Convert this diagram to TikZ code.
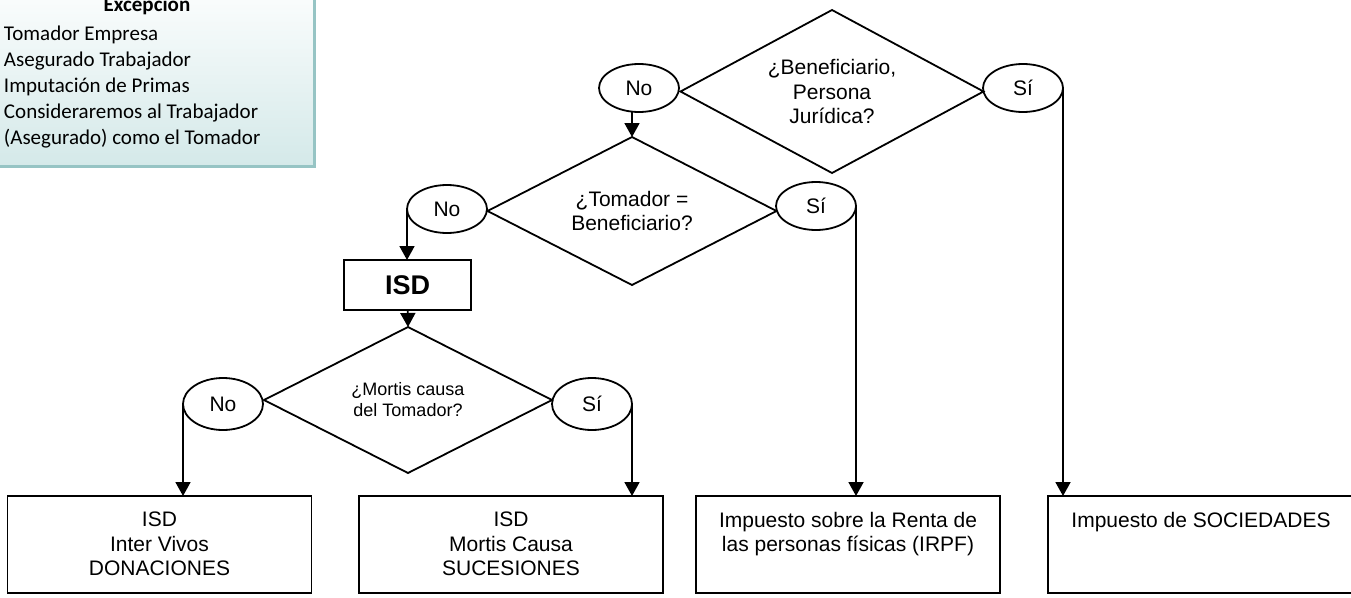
\documentclass[tikz,border=0pt]{standalone}
\usepackage{fontspec}
\setmainfont{Liberation Sans}
\newfontfamily\calibri{Carlito}
\usepackage{tikz}
\usetikzlibrary{arrows.meta,positioning,shapes}
\definecolor{tealline}{RGB}{150,196,196}
\definecolor{tealfill}{RGB}{212,233,233}
\newcommand{\restext}[1]{\parbox[c][97pt][t]{296pt}{\centering\vspace*{16pt}#1}}

\begin{document}
\begin{tikzpicture}[x=1pt,y=-1pt,% one unit = one pixel, y runs downwards
		every node/.style={
			align=center,		% use this so that the "\\" for line break works
			inner sep=0pt,outer sep=0pt,
			font=\fontsize{21}{24.5}\selectfont
		},
		every edge/.style={draw,line width=1.8pt,-{Triangle[width=15pt,length=14pt]}},
		question/.style={diamond,draw,line width=1.8pt,aspect=1.9},
		answer/.style={ellipse,draw,line width=1.8pt,minimum width=80,minimum height=48},
		result/.style={rectangle,draw,line width=1.8pt,minimum width=304,minimum height=97},
		excbox/.style={rectangle,draw=tealline,line width=3pt,top color=white,bottom color=tealfill},
		exctext/.style={font=\calibri\fontsize{21}{26}\selectfont}
	]
	\useasboundingbox (0,0) rectangle (1351,597);
	% note in the corner
	\node[excbox,minimum width=335,minimum height=192](E0) at (147,70) {};
	\node[exctext,font=\calibri\bfseries\fontsize{21}{26}\selectfont](E1) at (147,6) {Excepción};
	\node[exctext,anchor=north west,align=left](E2) at (4,26) {Tomador Empresa\\Asegurado Trabajador\\Imputación de Primas\\Consideraremos al Trabajador\\(Asegurado) como el Tomador};
	% questions and answers
	\node[question,minimum width=303,minimum height=163](Q1) at (832,91.5) {¿Beneficiario,\\Persona\\Jurídica?};
	\node[answer](No1) at (639,88) {No};
	\node[answer](Si1) at (1023,88) {Sí};
	\node[question,minimum width=289,minimum height=148](Q2) at (632,211) {¿Tomador =\\Beneficiario?};
	\node[answer](No2) at (447,209) {No};
	\node[answer](Si2) at (816,206) {Sí};
	\node[rectangle,draw,line width=1.8pt,minimum width=127,minimum height=50,font=\bfseries\fontsize{27}{30}\selectfont](ISD) at (407.5,285) {ISD};
	\node[question,minimum width=288,minimum height=146,font=\fontsize{18}{21}\selectfont](Q3) at (408,400) {¿Mortis causa\\del Tomador?};
	\node[answer,minimum height=52](No3) at (223,404) {No};
	\node[answer,minimum height=52](Si3) at (592,404) {Sí};
	% taxes
	\node[result](T1) at (159.5,544.5) {\restext{ISD\\Inter Vivos\\DONACIONES}};
	\node[result](T2) at (511,544.5) {\restext{ISD\\Mortis Causa\\SUCESIONES}};
	\node[result](T3) at (848,544.5) {\restext{Impuesto sobre la Renta de\\las personas físicas (IRPF)}};
	\node[result,minimum width=306](T4) at (1201,544.5) {\restext{Impuesto de SOCIEDADES}};
	\path
	(No1.south -| Q2.north)edge [] (Q2.north)
	(No2.west)edge [] (No2.west |- ISD.north)
	(ISD)edge [] (Q3.north)
	(No3.west)edge [] (No3.west |- T1.north)
	(Si3.east)edge [] (Si3.east |- T2.north)
	(Si2.east)edge [] (Si2.east |- T3.north)
	(Si1.east)edge [] (Si1.east |- T4.north)
	;
\end{tikzpicture}
\end{document}
